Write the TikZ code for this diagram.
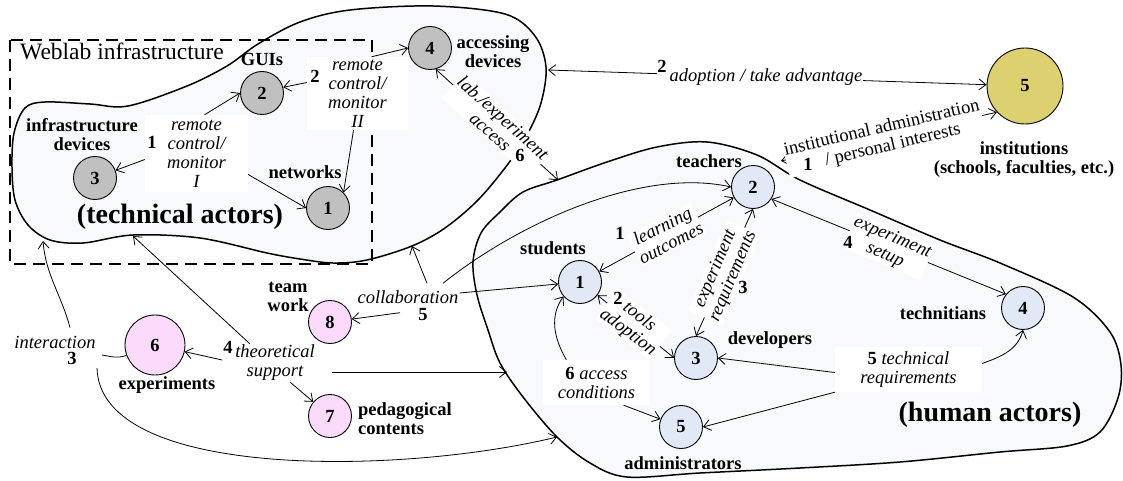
\documentclass[tikz,border=0pt]{standalone}
\usepackage{fontspec}
\setmainfont{Liberation Serif}
\usetikzlibrary{arrows.meta,calc}
\definecolor{blobfill}{RGB}{248,249,253}
\definecolor{techgray}{RGB}{192,192,192}
\definecolor{humanblue}{RGB}{226,233,246}
\definecolor{pinkfill}{RGB}{252,218,252}
\definecolor{instyellow}{RGB}{221,208,112}
\newcommand\lblsize{\fontsize{18.5}{19}\selectfont}
\newcommand\nb[1]{{\upshape\bfseries #1}}
\begin{document}
\begin{tikzpicture}[x=1pt,y=1pt,
  actor/.style={circle,draw,line width=0.9pt,minimum size=43pt,inner sep=0pt,font=\lblsize\bfseries},
  tech/.style={actor,fill=techgray},
  human/.style={actor,fill=humanblue},
  peda/.style={actor,fill=pinkfill},
  actorname/.style={font=\lblsize\bfseries,align=center,inner sep=0pt},
  numlabel/.style={font=\lblsize\bfseries,inner sep=0pt},
  rel/.style={font=\lblsize\itshape,align=center,inner sep=1pt},
  relbox/.style={rel,fill=white},
  arr/.style={line width=0.8pt,-{Straight Barb[length=7pt,width=11pt]}},
  darr/.style={line width=0.8pt,{Straight Barb[length=7pt,width=11pt]}-{Straight Barb[length=7pt,width=11pt]}},
  blob/.style={draw,line width=1.5pt,fill=blobfill},
  groupname/.style={font=\fontsize{28}{30}\selectfont\bfseries,inner sep=0pt}
]
\useasboundingbox (0,0) rectangle (1123,-481);

% technical actors region
\path[blob] plot[smooth cycle,tension=0.55] coordinates {
  (25,-108) (45,-102) (90,-104) (128,-106) (187,-86) (227,-66) (258,-44)
  (300,-22) (350,-10) (433,-6) (505,-14) (535,-36) (546,-67) (541,-103)
  (527,-135) (508,-164) (478,-200) (445,-228) (412,-246) (367,-260)
  (333,-263) (300,-259) (267,-253) (200,-238) (133,-235) (83,-243)
  (50,-240) (28,-225) (15,-200) (12,-167) (14,-133)};

% human actors region
\path[blob] plot[smooth cycle,tension=0.55] coordinates {
  (473,-262) (481,-233) (500,-212) (523,-192) (557,-180) (607,-162)
  (657,-147) (707,-142) (757,-155) (800,-180) (870,-210) (940,-240)
  (1000,-263) (1073,-297) (1110,-332) (1121,-365) (1118,-398) (1100,-432)
  (1067,-446) (1000,-452) (900,-462) (800,-468) (700,-473) (627,-477)
  (590,-463) (557,-437) (523,-397) (500,-363) (488,-330) (477,-295)};

% weblab infrastructure frame
\draw[line width=1.5pt,dash pattern=on 12pt off 7pt] (10,-40) rectangle (372,-264);
\node[anchor=base west,inner sep=0pt,font=\fontsize{23.5}{26}\selectfont] (weblab) at (20,-60) {Weblab infrastructure};

\node[groupname,anchor=base] (techgroup) at (180,-223) {(technical actors)};
\node[groupname,anchor=base] (humangroup) at (990,-421) {(human actors)};

% points on the region borders
\coordinate (ta1) at (548,-70);
\coordinate (tb1) at (412,-246);
\coordinate (tb2) at (133,-236);
\coordinate (tb3) at (43,-241);
\coordinate (hb1) at (558,-180);
\coordinate (hb2) at (507,-372);
\coordinate (hb3) at (557,-437);
\coordinate (hi1) at (781,-161);

% actors
\node[tech] (t3) at (95,-178) {3};
\node[tech] (t2) at (262,-93) {2};
\node[tech] (t1) at (328,-208) {1};
\node[tech] (t4) at (430,-48) {4};
\node[actor,fill=instyellow,minimum size=76pt] (i5) at (1025,-86) {5};
\node[human] (h1) at (580,-282) {1};
\node[human] (h2) at (753,-187) {2};
\node[human] (h3) at (696,-358) {3};
\node[human] (h4) at (1023,-308) {4};
\node[human] (h5) at (681,-427) {5};
\node[peda,minimum size=60pt] (e6) at (155,-345) {6};
\node[peda] (p8) at (330,-322) {8};
\node[peda] (p7) at (330,-416) {7};

% actor names
\node[actorname] (n-t3) at (82,-135) {infrastructure\\devices};
\node[actorname] (n-t2) at (262,-59) {GUIs};
\node[actorname] (n-t1) at (305,-172) {networks};
\node[actorname] (n-t4) at (493,-52) {accessing\\devices};
\node[actorname] (n-i5) at (1024,-160) {institutions\\(schools, faculties, etc.)};
\node[actorname] (n-h2) at (709,-161) {teachers};
\node[actorname] (n-h1) at (553,-248) {students};
\node[actorname] (n-h3) at (770,-340) {developers};
\node[actorname] (n-h5) at (683,-463) {administrators};
\node[actorname] (n-h4) at (943,-313) {technitians};
\node[actorname] (n-p8) at (288,-297) {team\\work};
\node[actorname] (n-e6) at (167,-385) {experiments};
\node[actorname,anchor=west,align=left] (n-p7) at (358,-419) {pedagogical\\contents};

% relation labels with several connectors
\node[relbox,minimum width=103pt,minimum height=77pt] (L1) at (196.5,-153.5) {remote\\control/\\monitor\\I};
\node[relbox,minimum width=101pt,minimum height=73pt] (L2) at (357.5,-93.5) {remote\\control/\\monitor\\II};
\node[relbox,minimum width=147pt,minimum height=45pt] (LT5) at (908.5,-369.5) {\nb{5} technical\\requirements};
\node[relbox,minimum width=107pt,minimum height=45pt] (LA6) at (596.5,-382.5) {\nb{6} access\\conditions};
\node[rel] (LC) at (408,-297) {collaboration};
\node[rel] (LT) at (275,-363) {theoretical\\support};
\node[rel] (LI) at (55,-342) {interaction};

% remote control / monitor
\draw[arr] ([xshift=8pt]L1.north) -- (t2.west);
\draw[arr] ([yshift=-6pt]L1.west) -- (t3);
\draw[arr] ([yshift=-21pt]L1.east) -- (t1.west);
\draw[arr] ([yshift=11pt]L2.west) -- (t2.15);
\draw[arr] ([xshift=14pt]L2.north) -- (t4.west);
\draw[arr] ([xshift=-4pt]L2.south) -- (t1.45);

% lab / experiment access
\draw[darr] (t4.-75) -- node[relbox,rotate=-42] (L6) {lab./experiment\\access} (hb1);

% adoption
\draw[darr] (ta1) -- node[pos=0.483,anchor=base,yshift=-4pt,rel,fill=white,inner sep=0.5pt] (Lad) {\raisebox{9pt}{\nb{2}}\,adoption / take advantage} (i5);

% institutional administration
\draw[darr] (hi1) -- node[pos=0.477,rotate=13,fill=white,inner sep=0.5pt,font=\lblsize,align=center] (Lin) {institutional administration\\\phantom{\nb{1}}\ / personal interests} (i5.223);

% relations among human actors
\draw[darr] (h1) -- node[relbox,rotate=27] (Llo) {learning\\outcomes} (h2);
\draw[darr] (h1.-37) -- node[relbox,rotate=-37,pos=0.47] (Lta) {tools\\adoption} (h3.west);
\draw[darr] (h3.north) -- node[relbox,rotate=67] (Lreq) {experiment\\requirements} (h2.south);
\draw[darr] (h2.-33) -- node[relbox,rotate=-23] (Lset) {experiment\\setup} (h4.141);

% technical requirements
\draw[arr] ([yshift=-3pt]LT5.west) -- (h3.east);
\draw[arr] (LT5.south west) -- (h5.east);
\draw[arr] ([yshift=6pt]LT5.east) to[out=20,in=-105] (h4.south);

% access conditions
\draw[arr] (LA6.143) to[out=120,in=235] (h1.221);
\draw[arr] (LA6.-40) -- (h5);

% collaboration
\draw[arr] ([xshift=-8pt,yshift=-8pt]LC.south) -- (p8);
\draw[arr] ([xshift=19pt,yshift=6pt]LC.north) -- (tb1);
\draw[arr] ([yshift=4pt]LC.east) -- (h1);
\draw[arr] ([xshift=35pt,yshift=6pt]LC.north) .. controls +(75,60) and +(-90,20) .. (h2.west);

% theoretical support
\draw[arr] ([shift={(-12,3)}]LT.west) -- (e6);
\draw[arr] ([xshift=-25pt]LT.north) -- (tb2);
\draw[arr] ([xshift=15pt]LT.south) -- (p7);
\draw[arr] ([shift={(57,-9)}]LT.center) -- (hb2);

% interaction
\draw[arr] ([xshift=15pt,yshift=7pt]LI.north) to[out=105,in=-85] (tb3);
\draw[line width=0.8pt] ([shift={(47,-13)}]LI.center) to[out=-10,in=200] (e6.200);
\draw[arr] ([shift={(42,-26)}]LI.center) .. controls (100,-480) and (400,-475) .. (hb3);

% relation numbers
\node[numlabel] (k1) at (152,-142) {1};
\node[numlabel] (k2) at (315,-76) {2};
\node[numlabel] (k6) at (520,-155) {6};
\node[numlabel] (ki) at (808,-164) {1};
\node[numlabel] (klo) at (620,-233) {1};
\node[numlabel] (kta) at (618,-298) {2};
\node[numlabel] (kreq) at (743,-287) {3};
\node[numlabel] (kset) at (848,-242) {4};
\node[numlabel] (kc) at (423,-315) {5};
\node[numlabel] (kt) at (228,-347) {4};
\node[numlabel] (kin) at (72,-358) {3};
\end{tikzpicture}
\end{document}
